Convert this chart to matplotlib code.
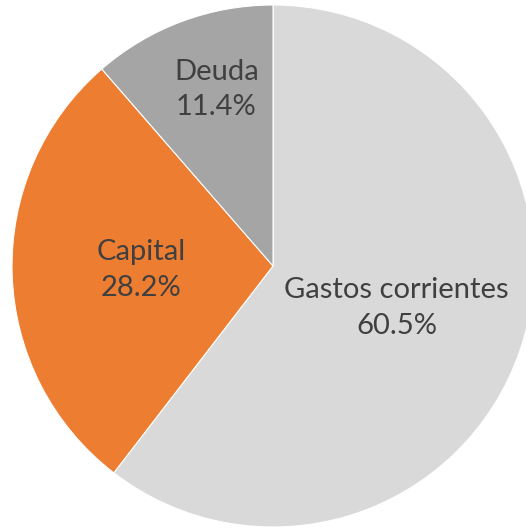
import numpy as np
import matplotlib.pyplot as plt

labels = ['Gastos corrientes', 'Capital', 'Deuda']
values = [60.5, 28.2, 11.4]
colours = ['#D9D9D9', '#ED7D31', '#A5A5A5']
label_dist = [0.5, 0.505, 0.71]
label_turn = [0, 0, -2.7]   # degrees, nudges the label off the wedge middle

W, H = 526, 529
cx, cy, r = 273, 266, 261

fig = plt.figure(figsize=(W / 100, H / 100), dpi=100)
ax = fig.add_axes([(cx - r) / W, (H - cy - r) / H, 2 * r / W, 2 * r / H])
ax.set_axis_off()

wedges, _ = ax.pie(values, colors=colours, startangle=90, counterclock=False,
                   wedgeprops={'edgecolor': 'white', 'linewidth': 0.8})
ax.set_xlim(-1, 1)
ax.set_ylim(-1, 1)

for w, lab, val, d, t in zip(wedges, labels, values, label_dist, label_turn):
    ang = np.deg2rad((w.theta1 + w.theta2) / 2 + t)
    ax.text(d * np.cos(ang), d * np.sin(ang), f'{lab}\n{val:.1f}%',
            ha='center', va='center', fontsize=21, family='Lato',
            color='#404040', linespacing=1.45)

fig.savefig('out.png', dpi=100)
